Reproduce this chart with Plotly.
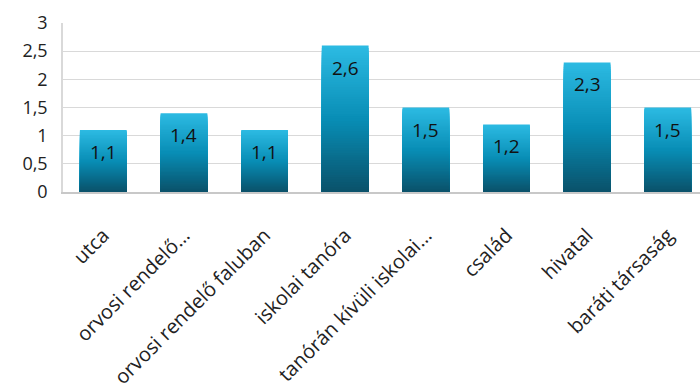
import plotly.graph_objects as go
import numpy as np

categories = ["utca", "orvosi rendelő…", "orvosi rendelő faluban", "iskolai tanóra",
              "tanórán kívüli iskolai…", "család", "hivatal", "baráti társaság"]
values = [1.1, 1.4, 1.1, 2.6, 1.5, 1.2, 2.3, 1.5]
y_tickvals = [0, 0.5, 1, 1.5, 2, 2.5, 3]
y_ticktext = ["0", "0,5", "1", "1,5", "2", "2,5", "3"]

top_rgb = np.array([44, 186, 226])
mid_rgb = np.array([8, 141, 181])
bot_rgb = np.array([10, 80, 104])

def grad(t):
    # t: 0 bottom, 1 top
    if t >= 0.5:
        c = mid_rgb + (top_rgb - mid_rgb) * (t - 0.5) / 0.5
    else:
        c = bot_rgb + (mid_rgb - bot_rgb) * t / 0.5
    return "rgb(%d,%d,%d)" % tuple(int(round(v)) for v in c)

vals = np.array(values)
N = 60
fig = go.Figure()
for k in range(N):
    frac = (N - k) / N
    fig.add_trace(go.Bar(
        x=categories, y=vals * frac,
        marker=dict(color=grad(frac), line=dict(width=0)),
        width=0.58, hoverinfo="skip", showlegend=False,
    ))

for c, v in zip(categories, values):
    fig.add_annotation(x=c, y=v, yshift=-22, text=f"{v:.1f}".replace(".", ","),
                       showarrow=False, yanchor="middle",
                       font=dict(family="Open Sans", size=19, color="#111"))

fig.update_layout(
    barmode="overlay",
    width=700, height=383,
    margin=dict(l=63, r=0, t=23, b=191, autoexpand=False),
    plot_bgcolor="white", paper_bgcolor="white",
    separators=",.",
    font=dict(family="Open Sans", size=17, color="#222"),
)
fig.update_xaxes(range=[-0.5, 7.4], tickangle=-45, automargin=False,
                 showline=True, linecolor="#c8c8c8", linewidth=1.5,
                 showgrid=False, ticks="", ticklabelstandoff=22,
                 tickfont=dict(size=20, color="#222"))
fig.update_yaxes(range=[0, 3], tickvals=y_tickvals, ticktext=y_ticktext,
                 showgrid=True, gridcolor="#d9d9d9", gridwidth=1.3,
                 showline=True, linecolor="#d9d9d9", linewidth=1.5,
                 zeroline=False, ticks="", ticklabelstandoff=10, automargin=False,
                 tickfont=dict(size=18, color="#222"))
fig.write_html("out.html")
